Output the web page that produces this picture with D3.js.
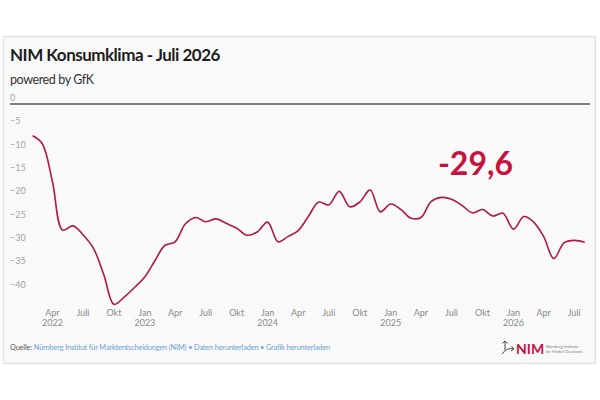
<!DOCTYPE html>
<html><head><meta charset="utf-8">
<script src="https://cdn.jsdelivr.net/npm/d3@7"></script>
<style>
html,body{margin:0;padding:0;background:#fff;}
svg{display:block;font-family:Lato,sans-serif;}
</style></head>
<body><svg id="c" width="600" height="400"></svg>
<script>
const startMonth = "2022-02";
const values = [-6.8,-8.4,-16.6,-27.0,-26.1,-28.0,-30.9,-36.6,-42.9,-41.3,-39.3,-37.0,
 -33.4,-30.3,-29.5,-25.7,-24.3,-25.2,-24.6,-25.6,-26.6,-28.1,-27.4,-25.3,
 -29.5,-28.4,-27.1,-24.1,-21.0,-21.6,-18.7,-22.0,-21.0,-18.4,-23.1,-21.4,
 -22.6,-24.4,-24.3,-20.9,-20.0,-20.4,-21.7,-23.3,-22.6,-24.0,-23.4,-26.8,
 -24.1,-25.2,-28.4,-33.1,-29.7,-29.2,-29.6];
const yTicks = [0,-5,-10,-15,-20,-25,-30,-35,-40];
const monthNames = ["Jan","Feb","Mär","Apr","Mai","Jun","Juli","Aug","Sep","Okt","Nov","Dez"];
const title = "NIM Konsumklima - Juli 2026";
const subtitle = "powered by GfK";
const lastLabel = "-29,6";

const [sy, sm] = startMonth.split("-").map(Number);
const data = values.map((v,i)=>({date:new Date(sy, sm-1+i, 1), v}));

const svg = d3.select("#c");
svg.append("rect").attr("x",3.5).attr("y",36.5).attr("width",592).attr("height",327)
  .attr("fill","#f9f9f9").attr("stroke","#e3e3e3").attr("stroke-width",1.5);

svg.append("text").attr("x",10).attr("y",61).attr("font-size",17).attr("font-weight",700)
  .attr("letter-spacing",-0.5).attr("fill","#1d1d1d").text(title);
svg.append("text").attr("x",10).attr("y",84).attr("font-size",12.5)
  .attr("letter-spacing",-0.4).attr("fill","#333").text(subtitle);

const x = d3.scaleTime().domain([data[0].date, data[data.length-1].date]).range([32.6, 584.7]);
const y = d3.scaleLinear().domain([0,-40]).range([104, 290.8]);

// y labels
const yg = svg.append("g");
yTicks.forEach(t=>{
  yg.append("text").attr("x",10).attr("y",y(t)-3).attr("font-size",9)
    .attr("fill","#a3a3a3").text(t===0?"0":"\u2212"+Math.abs(t));
});
svg.append("line").attr("x1",10).attr("x2",590).attr("y1",y(0)).attr("y2",y(0))
  .attr("stroke","#555").attr("stroke-width",1.3);

// x ticks
const xt = x.ticks(d3.timeMonth.every(3)).filter(d=>d>=new Date(2022,3,1));
const xg = svg.append("g");
xt.forEach((d,i)=>{
  xg.append("text").attr("x",x(d)).attr("y",315.5).attr("text-anchor","middle")
    .attr("font-size",9).attr("fill","#8a8a8a").text(monthNames[d.getMonth()]);
  if(d.getMonth()===0 || i===0){
    xg.append("text").attr("x",x(d)).attr("y",326).attr("text-anchor","middle")
      .attr("font-size",9).attr("fill","#8a8a8a").text(d.getFullYear());
  }
});

const line = d3.line().x(d=>x(d.date)).y(d=>y(d.v)).curve(d3.curveCatmullRom.alpha(0.5));
svg.append("path").datum(data).attr("d",line).attr("fill","none")
  .attr("stroke","#b01a3e").attr("stroke-width",1.6);

svg.append("text").attr("x",475.5).attr("y",174.5).attr("text-anchor","middle")
  .attr("font-size",32).attr("font-weight",700).attr("fill","#c5143f").text(lastLabel);

// footer
const f = svg.append("text").attr("x",10).attr("y",350).attr("font-size",7.3).attr("letter-spacing",-0.12);
f.append("tspan").attr("fill","#555").text("Quelle: ");
f.append("tspan").attr("fill","#6a9fd0").text("Nürnberg Institut für Marktentscheidungen (NIM)");
f.append("tspan").attr("fill","#6a9fd0").text(" \u2022 Daten herunterladen \u2022 Grafik herunterladen");

// logo
const lg = svg.append("g").attr("transform","translate(501,340)");
lg.append("path").attr("d","M4 10 L4 1 M1.5 3.5 L4 1 L6.5 3.5 M1 14 Q6 7 13 9 M10.5 6.5 L13 9 L10 11")
  .attr("fill","none").attr("stroke","#444").attr("stroke-width",1);
lg.append("text").attr("x",15).attr("y",14).attr("font-size",14).attr("font-weight",700)
  .attr("fill","#c5143f").text("NIM");
lg.append("text").attr("x",45).attr("y",8).attr("font-size",4).attr("fill","#777").text("Nürnberg Institute");
lg.append("text").attr("x",45).attr("y",13).attr("font-size",4).attr("fill","#777").text("for Market Decisions");
</script></body></html>
